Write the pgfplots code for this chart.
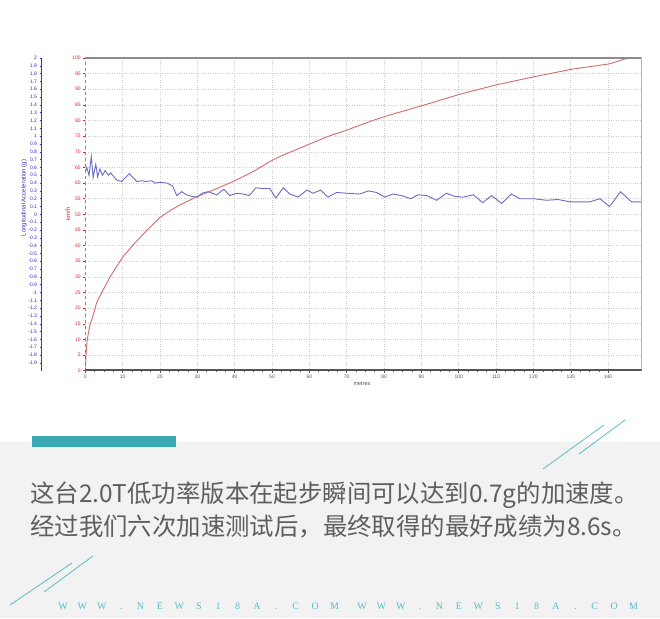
\documentclass[border=0pt]{standalone}
\usepackage{fontspec}
\setmainfont{Liberation Sans}
\newfontfamily\cjk{Noto Sans CJK SC}
\newfontfamily\wmfont{Liberation Serif}
\usepackage{pgfplots}
\pgfplotsset{compat=1.18}

\definecolor{redline}{HTML}{D46A6A}
\definecolor{blueline}{HTML}{6B6BC8}
\definecolor{redlab}{HTML}{D02828}
\definecolor{bluelab}{HTML}{2F2FC0}
\definecolor{axblue}{HTML}{2E2EFF}
\definecolor{framegray}{HTML}{8C8C8C}
\definecolor{bottomgray}{HTML}{555555}
\definecolor{tealbar}{HTML}{3AA9B1}
\definecolor{tealline}{HTML}{5BBCC4}
\definecolor{bggray}{HTML}{F2F2F2}
\definecolor{txt}{HTML}{5E5E5E}

\pgfplotstableread{
x a
0 0.55
0.4 0.60
1.0 0.50
1.6 0.74
2.1 0.47
2.8 0.64
3.3 0.48
3.9 0.58
4.6 0.50
5.3 0.56
6.2 0.50
6.8 0.53
8.4 0.44
9.7 0.42
11.8 0.52
13.8 0.42
15.1 0.43
16.2 0.42
17.8 0.43
18.7 0.40
20.0 0.41
21.9 0.40
23.4 0.36
24.5 0.24
25.8 0.29
27.1 0.25
28.5 0.23
30.0 0.22
31.2 0.27
32.9 0.29
35.2 0.25
37.1 0.32
38.7 0.24
40.5 0.27
42.3 0.26
43.9 0.24
45.7 0.34
47.5 0.33
49.4 0.33
51.0 0.21
52.1 0.28
53.0 0.34
54.8 0.26
57.0 0.22
59.3 0.31
61.0 0.27
63.0 0.31
65.0 0.22
67.3 0.28
70.0 0.27
73.5 0.26
75.8 0.30
78.0 0.28
80.2 0.22
82.4 0.26
84.7 0.24
87.1 0.20
89.1 0.25
91.4 0.24
94.1 0.18
96.7 0.27
98.9 0.23
101.2 0.22
103.9 0.25
106.4 0.15
108.8 0.24
111.5 0.14
114.1 0.26
116.4 0.20
120.0 0.20
123.5 0.18
126.6 0.19
129.8 0.16
135.1 0.16
137.8 0.20
140.4 0.10
143.3 0.29
146.3 0.16
148.8 0.16
}\accel

\pgfplotstableread{
x v
0 0
0.2 5
0.5 9.8
1.3 15
1.9 16.8
3.0 21.6
4.4 25
6.6 29.9
10 36.3
12.8 40.2
16.4 44.8
20 49.0
22.7 51.2
25.3 53
30 55.7
34.3 57.8
39.6 60.5
45 63.7
49.4 66.9
52.1 68.5
60.1 72.5
65.4 75.1
70.2 77.0
76.2 79.7
80.2 81.3
90.3 84.8
100.3 88.4
110 91.4
120.2 94.0
130.2 96.4
140.3 98.1
144.5 99.7
147.1 100
}\speed

\begin{document}
\begin{tikzpicture}[x=1pt,y=1pt]
\useasboundingbox (0,0) rectangle (660,618);
\fill[white] (0,0) rectangle (660,618);
\fill[bggray] (0,0) rectangle (660,176);
\fill[tealbar] (32,171) rectangle (176,182);

% decorative thin lines
\draw[tealline, line width=0.8pt] (543,149) -- (604,193);
\draw[tealline, line width=0.8pt] (579,164) -- (625,198);
\draw[tealline, line width=0.8pt] (10,13) -- (72,55);
\draw[tealline, line width=0.8pt] (44,26) -- (93,62);

% speed axis (main)
\begin{axis}[
  at={(85.3pt,247.3pt)}, anchor=south west,
  scale only axis, width=556.4pt, height=312.7pt,
  xmin=0, xmax=149, ymin=0, ymax=100,
  xtick={0,10,...,140}, ytick={0,5,...,100},
  minor x tick num=3,
  grid=major,
  major grid style={gray!40, dotted, line width=0.6pt},
  axis line style={draw=none},
  tick align=outside, xtick pos=bottom, ytick pos=left,
  major tick length=2pt, minor tick length=1.5pt,
  xtick style={bottomgray, line width=0.5pt},
  ytick style={redlab, line width=0.5pt},
  /pgf/number format/assume math mode=true,
  xticklabel style={font=\fontsize{5}{6}\selectfont, text=bottomgray, yshift=1pt},
  yticklabel style={font=\fontsize{5}{6}\selectfont, text=redlab, xshift=1pt},
]
\addplot[redline, line width=0.9pt] table[x=x, y=v] {\speed};
\draw[framegray, line width=1.2pt] (rel axis cs:0,1) -- (rel axis cs:1,1) -- (rel axis cs:1,0);
\draw[bottomgray, line width=2.4pt] (rel axis cs:0,0) -- (rel axis cs:1,0);
\draw[redlab, dashed, line width=0.8pt] (rel axis cs:0,0) -- (rel axis cs:0,1);
\end{axis}

% acceleration series on the same box
\begin{axis}[
  at={(85.3pt,247.3pt)}, anchor=south west,
  scale only axis, width=556.4pt, height=312.7pt,
  xmin=0, xmax=149, ymin=-2, ymax=2,
  hide axis,
]
\addplot[blueline, line width=0.9pt] table[x=x, y=a] {\accel};
\end{axis}

% acceleration scale
\begin{axis}[
  at={(41pt,247.3pt)}, anchor=south west,
  scale only axis, width=5pt, height=312.7pt,
  xmin=0, xmax=1, ymin=-2, ymax=2,
  hide x axis,
  axis line style={draw=none},
  ytick pos=left, tick align=outside,
  major tick length=1.5pt,
  ytick style={axblue, line width=0.5pt},
  ytick={-1.9,-1.8,-1.7,-1.6,-1.5,-1.4,-1.3,-1.2,-1.1,-1,-0.9,-0.8,-0.7,-0.6,-0.5,-0.4,-0.3,-0.2,-0.1,0,0.1,0.2,0.3,0.4,0.5,0.6,0.7,0.8,0.9,1,1.1,1.2,1.3,1.4,1.5,1.6,1.7,1.8,1.9,2},
  /pgf/number format/assume math mode=true,
  yticklabel style={font=\fontsize{5}{6}\selectfont, text=bluelab, xshift=1pt,
    /pgf/number format/fixed, /pgf/number format/precision=1},
]
\draw[axblue, line width=1.6pt] (rel axis cs:0,0) -- (rel axis cs:0,1);
\end{axis}

\node[rotate=90, text=bluelab, font=\fontsize{6}{7}\selectfont] at (24,420) {Longitudinal Acceleration (g)};
\node[rotate=90, text=redlab, font=\fontsize{6}{7}\selectfont] at (68,404) {km/h};
\node[text=bottomgray, font=\fontsize{5.5}{6}\selectfont] at (362,234) {metres};

% caption text
\node[anchor=west, text=txt, font=\cjk\fontsize{24.4}{29}\selectfont, inner sep=0pt] at (30,123) {这台2.0T低功率版本在起步瞬间可以达到0.7g的加速度。};
\node[anchor=west, text=txt, font=\cjk\fontsize{24.4}{29}\selectfont, inner sep=0pt] at (30,91) {经过我们六次加速测试后，最终取得的最好成绩为8.6s。};

% watermark
\foreach \c [count=\i] in {W,W,W,.,N,E,W,S,1,8,A,.,C,O,M} {
  \node[anchor=base, inner sep=0pt, text=tealline, font=\wmfont\fontsize{10}{11}\selectfont] at ({63+(\i-1)*19.4},8.5) {\c};
  \node[anchor=base, inner sep=0pt, text=tealline, font=\wmfont\fontsize{10}{11}\selectfont] at ({362+(\i-1)*19.4},8.5) {\c};
}
\end{tikzpicture}
\end{document}
